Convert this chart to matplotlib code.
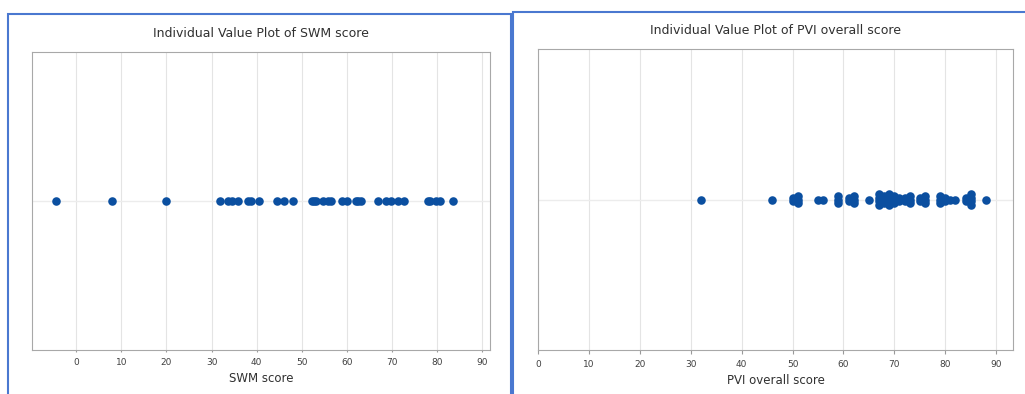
import matplotlib
matplotlib.use("Agg")
import matplotlib.pyplot as plt
from matplotlib.patches import Rectangle
import numpy as np

# SWM score values (left panel)
swm = [-4.5, 8.0, 19.8, 31.9, 33.6, 34.6, 35.8, 38.1, 38.8, 40.4, 44.6, 46.0, 48.1,
       52.2, 52.6, 53.1, 54.7, 55.9, 56.5, 58.8, 59.9, 61.9, 62.4, 63.1, 66.9,
       68.7, 69.7, 71.4, 72.7, 77.9, 78.3, 79.8, 80.6, 83.4]

# PVI overall score values and how often each occurs (right panel)
pvi_vals = [32, 46, 50, 51, 55, 56, 59, 61, 62, 65, 67, 68, 69, 70, 71, 72, 73,
            75, 76, 79, 80, 81, 82, 84, 85, 88]
pvi_counts = [1, 1, 2, 3, 1, 1, 3, 2, 3, 1, 4, 3, 4, 3, 2, 2, 3,
              2, 3, 3, 2, 1, 1, 2, 4, 1]

ticks = list(range(0, 100, 10))
dot = "#0b4fa0"
W, H = 1025, 394


def stack(vals, counts, step):
    xs, ys = [], []
    for v, n in zip(vals, counts):
        for i in range(n):
            xs.append(v)
            ys.append((i - (n - 1) / 2) * step)
    return xs, ys


def panel(rect, xs, ys, xlim, title, xlabel, ticklen):
    l, b, r, t = rect
    ax = fig.add_axes([l / W, 1 - b / H, (r - l) / W, (b - t) / H])
    ax.scatter(xs, ys, s=38, color=dot, zorder=3, linewidths=0)
    ax.axhline(0, color="#ececec", lw=1, zorder=1)
    ax.set_xlim(*xlim)
    ax.set_ylim(-1, 1)
    ax.set_xticks(ticks)
    ax.set_yticks([])
    ax.grid(axis="x", color="#e4e4e4", lw=0.8)
    ax.set_axisbelow(True)
    for s in ax.spines.values():
        s.set_color("#a8a8a8")
    ax.tick_params(axis="x", labelsize=6.5, colors="#9a9a9a", labelcolor="#404040",
                   length=ticklen, pad=4)
    ax.set_title(title, fontsize=9, color="#303030", pad=11)
    ax.set_xlabel(xlabel, fontsize=8.5, color="#303030", labelpad=4)
    return ax


fig = plt.figure(figsize=(10.25, 3.94), dpi=100)

# blue frames around each panel
fig.add_artist(Rectangle((8 / W, -0.05), 503 / W, 1 - 14 / H + 0.05, transform=fig.transFigure,
                         fill=False, edgecolor="#4a78d0", lw=1.5))
fig.add_artist(Rectangle((513 / W, -0.05), 520 / W, 1 - 12 / H + 0.05, transform=fig.transFigure,
                         fill=False, edgecolor="#4a78d0", lw=1.5))

panel((32, 350, 490, 52), swm, [0] * len(swm), (-9.8, 91.7),
      "Individual Value Plot of SWM score", "SWM score", 1.5)

px, py = stack(pvi_vals, pvi_counts, 0.026)
panel((538, 350, 1013, 49), px, py, (0, 93.3),
      "Individual Value Plot of PVI overall score", "PVI overall score", 3)

fig.savefig("out.png", dpi=100)
